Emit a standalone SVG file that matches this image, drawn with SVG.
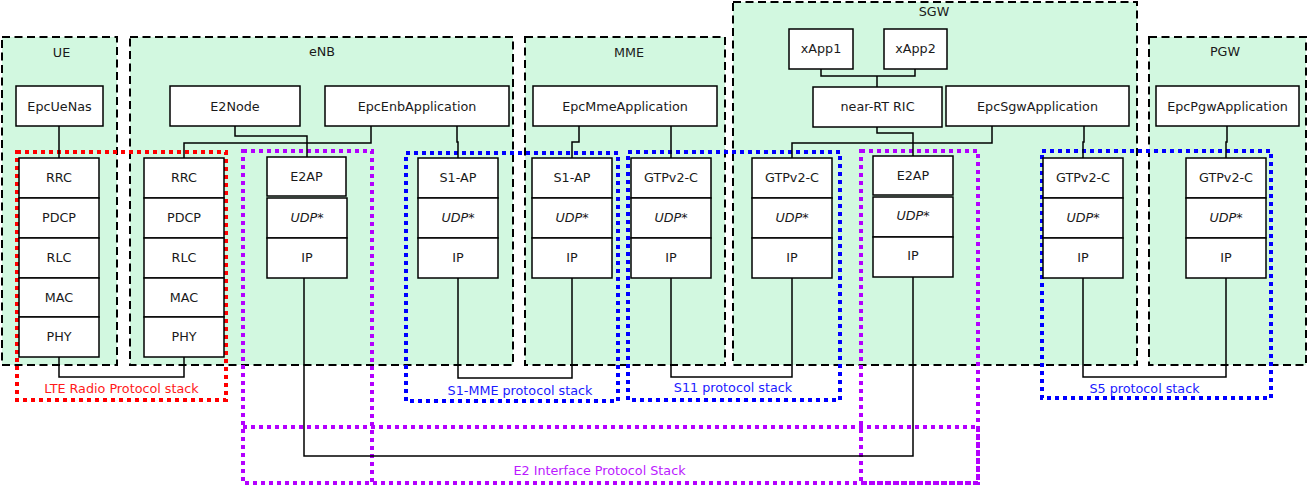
<svg xmlns="http://www.w3.org/2000/svg" width="1309" height="487" viewBox="0 0 1309 487">
<style>
.cont{fill:#d2f8e0;stroke:#000;stroke-width:2;stroke-dasharray:8 4.5}
.box{fill:#fff;stroke:#000;stroke-width:1.5}
text{font-family:"DejaVu Sans","Liberation Sans",sans-serif;font-size:12.75px;fill:#1a1a1a;text-anchor:middle}
.it{font-style:italic}
.conn path{fill:none;stroke:#000;stroke-width:1.5}
.dot{fill:none;stroke-width:4;stroke-dasharray:4 4}
.red{stroke:#ff0000}
.blue{stroke:#0000ff}
.pur{stroke:#b300ff}
.lred{fill:#ff1a1a}
.lblue{fill:#1a1aff}
.lpur{fill:#bb1aff}
</style>
<rect width="1309" height="487" fill="#fff"/>
<g id="containers">
  <g id="UE"><rect class="cont" x="2" y="37" width="115" height="328"/><text x="61.5" y="56.5">UE</text></g>
  <g id="eNB"><rect class="cont" x="130" y="37" width="383" height="328"/><text x="322" y="55.5">eNB</text></g>
  <g id="MME"><rect class="cont" x="525" y="37" width="200" height="328"/><text x="629" y="57">MME</text></g>
  <g id="SGW"><rect class="cont" x="733" y="2" width="404" height="363"/><text x="934" y="16">SGW</text></g>
  <g id="PGW"><rect class="cont" x="1149" y="37" width="157" height="328"/><text x="1225" y="56">PGW</text></g>
</g>
<g id="stacks">
  <g id="lteStack"><rect class="dot red" x="17" y="152" width="209" height="248"/><text class="lred" x="121.5" y="393">LTE Radio Protocol stack</text></g>
  <g id="s1mmeStack"><rect class="dot blue" x="406" y="153" width="212" height="248"/><text class="lblue" x="520" y="395">S1-MME protocol stack</text></g>
  <g id="s11Stack"><rect class="dot blue" x="628" y="152" width="212" height="248"/><text class="lblue" x="733" y="392">S11 protocol stack</text></g>
  <g id="s5Stack"><rect class="dot blue" x="1042" y="151" width="229" height="247"/><text class="lblue" x="1144.5" y="393">S5 protocol stack</text></g>
  <g id="e2Stack">
    <rect class="dot pur" x="243" y="151" width="129" height="332"/>
    <rect class="dot pur" x="861" y="151" width="117" height="332"/>
    <rect class="dot pur" x="243" y="427" width="735" height="56"/>
    <text class="lpur" x="599.5" y="475">E2 Interface Protocol Stack</text>
  </g>
</g>
<g id="connectors" class="conn">
  <path d="M59,126 V158"/>
  <path d="M235,126 V136 H307 V157"/>
  <path d="M371,126 V143 H184 V158"/>
  <path d="M457,126 V142 H458 V158"/>
  <path d="M579,126 V142 H572 V158"/>
  <path d="M671,126 V158"/>
  <path d="M821,69 V76 H915 V69 M877,76 V87"/>
  <path d="M877,127 V133 H913 V156"/>
  <path d="M992,126 V143 H792 V158"/>
  <path d="M1084,126 V142 H1083 V158"/>
  <path d="M1227,126 V142 H1226 V158"/>
  <path d="M59,357 V377 H184 V357"/>
  <path d="M304,278 V456 H913 V277"/>
  <path d="M458,278 V378 H572 V278"/>
  <path d="M671,278 V377 H792 V278"/>
  <path d="M1083,278 V377 H1226 V278"/>
</g>
<g id="EpcUeNas"><rect class="box" x="16" y="86" width="87" height="40"/><text x="59.5" y="110.5">EpcUeNas</text></g>
<g id="E2Node"><rect class="box" x="170" y="86" width="130" height="40"/><text x="235" y="110.5">E2Node</text></g>
<g id="EpcEnbApplication"><rect class="box" x="325" y="86" width="184" height="40"/><text x="417" y="110.5">EpcEnbApplication</text></g>
<g id="EpcMmeApplication"><rect class="box" x="533" y="86" width="184" height="40"/><text x="625" y="110.5">EpcMmeApplication</text></g>
<g id="xApp1"><rect class="box" x="789" y="29" width="64" height="40"/><text x="821" y="53">xApp1</text></g>
<g id="xApp2"><rect class="box" x="884" y="29" width="63" height="40"/><text x="915.5" y="53">xApp2</text></g>
<g id="nearRtRic"><rect class="box" x="813" y="87" width="129" height="40"/><text x="877.5" y="111">near-RT RIC</text></g>
<g id="EpcSgwApplication"><rect class="box" x="946" y="86" width="183" height="40"/><text x="1037.5" y="110.5">EpcSgwApplication</text></g>
<g id="EpcPgwApplication"><rect class="box" x="1156" y="86" width="143" height="40"/><text x="1227.5" y="110.5">EpcPgwApplication</text></g>

<g id="ueLte">
  <rect class="box" x="19" y="158" width="80" height="40"/><text x="59" y="182">RRC</text>
  <rect class="box" x="19" y="198" width="80" height="40"/><text x="59" y="222">PDCP</text>
  <rect class="box" x="19" y="238" width="80" height="40"/><text x="59" y="262">RLC</text>
  <rect class="box" x="19" y="278" width="80" height="39"/><text x="59" y="301.5">MAC</text>
  <rect class="box" x="19" y="317" width="80" height="40"/><text x="59" y="341">PHY</text>
</g>
<g id="enbLte">
  <rect class="box" x="144" y="158" width="80" height="40"/><text x="184" y="182">RRC</text>
  <rect class="box" x="144" y="198" width="80" height="40"/><text x="184" y="222">PDCP</text>
  <rect class="box" x="144" y="238" width="80" height="40"/><text x="184" y="262">RLC</text>
  <rect class="box" x="144" y="278" width="80" height="39"/><text x="184" y="301.5">MAC</text>
  <rect class="box" x="144" y="317" width="80" height="40"/><text x="184" y="341">PHY</text>
</g>
<g id="enbE2">
  <rect class="box" x="267" y="157" width="79" height="39"/><text x="306.5" y="181">E2AP</text>
  <rect class="box" x="267" y="198" width="80" height="40"/><text class="it" x="307" y="222">UDP*</text>
  <rect class="box" x="267" y="238" width="80" height="40"/><text x="307" y="262">IP</text>
</g>
<g id="enbS1">
  <rect class="box" x="418" y="158" width="80" height="40"/><text x="458" y="182">S1-AP</text>
  <rect class="box" x="418" y="198" width="80" height="40"/><text class="it" x="458" y="222">UDP*</text>
  <rect class="box" x="418" y="238" width="80" height="40"/><text x="458" y="262">IP</text>
</g>
<g id="mmeS1">
  <rect class="box" x="532" y="158" width="80" height="40"/><text x="572" y="182">S1-AP</text>
  <rect class="box" x="532" y="198" width="80" height="40"/><text class="it" x="572" y="222">UDP*</text>
  <rect class="box" x="532" y="238" width="80" height="40"/><text x="572" y="262">IP</text>
</g>
<g id="mmeGtp">
  <rect class="box" x="631" y="158" width="80" height="40"/><text x="671" y="182">GTPv2-C</text>
  <rect class="box" x="631" y="198" width="80" height="40"/><text class="it" x="671" y="222">UDP*</text>
  <rect class="box" x="631" y="238" width="80" height="40"/><text x="671" y="262">IP</text>
</g>
<g id="sgwGtpS11">
  <rect class="box" x="752" y="158" width="80" height="40"/><text x="792" y="182">GTPv2-C</text>
  <rect class="box" x="752" y="198" width="80" height="40"/><text class="it" x="792" y="222">UDP*</text>
  <rect class="box" x="752" y="238" width="80" height="40"/><text x="792" y="262">IP</text>
</g>
<g id="sgwE2">
  <rect class="box" x="873" y="156" width="80" height="39"/><text x="913" y="179.5">E2AP</text>
  <rect class="box" x="873" y="197" width="80" height="40"/><text class="it" x="913" y="220">UDP*</text>
  <rect class="box" x="873" y="237" width="80" height="40"/><text x="913" y="260">IP</text>
</g>
<g id="sgwGtpS5">
  <rect class="box" x="1043" y="158" width="80" height="40"/><text x="1083" y="182">GTPv2-C</text>
  <rect class="box" x="1043" y="198" width="80" height="40"/><text class="it" x="1083" y="222">UDP*</text>
  <rect class="box" x="1043" y="238" width="80" height="40"/><text x="1083" y="262">IP</text>
</g>
<g id="pgwGtp">
  <rect class="box" x="1186" y="158" width="80" height="40"/><text x="1226" y="182">GTPv2-C</text>
  <rect class="box" x="1186" y="198" width="80" height="40"/><text class="it" x="1226" y="222">UDP*</text>
  <rect class="box" x="1186" y="238" width="80" height="40"/><text x="1226" y="262">IP</text>
</g>
</svg>
